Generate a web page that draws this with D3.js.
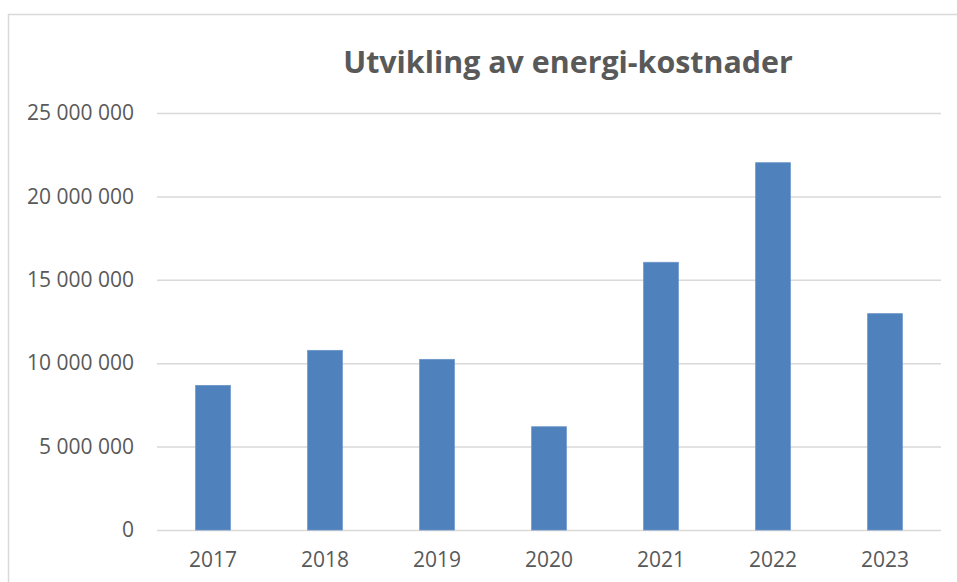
<!DOCTYPE html>
<html>
<head>
<meta charset="utf-8">
<script src="https://cdn.jsdelivr.net/npm/d3@7"></script>
<style>
  body { margin: 0; background: #fff; }
  svg { display: block; font-family: "Open Sans", sans-serif; }
</style>
</head>
<body>
<svg id="chart" width="957" height="582"></svg>
<script>
const TITLE = "Utvikling av energi-kostnader";
const years = ["2017", "2018", "2019", "2020", "2021", "2022", "2023"];
const costs = [8670000, 10770000, 10230000, 6190000, 16050000, 22020000, 12970000];
const yTicks = [0, 5000000, 10000000, 15000000, 20000000, 25000000];

const W = 957, H = 582;
const margin = { top: 113, right: 16, bottom: 52, left: 157 };

const svg = d3.select("#chart");

// chart area frame
svg.append("rect")
  .attr("x", 8.5).attr("y", 14.5)
  .attr("width", W + 10).attr("height", H + 10)
  .attr("fill", "none")
  .attr("stroke", "#d9d9d9")
  .attr("stroke-width", 1.5);

const x = d3.scaleBand()
  .domain(years)
  .range([margin.left, W - margin.right])
  .paddingInner(0.69)
  .paddingOuter(0.345);

const y = d3.scaleLinear()
  .domain([0, 25000000])
  .range([H - margin.bottom, margin.top]);

const fmt = v => d3.format(",")(v).replace(/,/g, " ");

// gridlines + y labels
const yAxis = svg.append("g")
  .attr("transform", `translate(${margin.left},0)`)
  .call(d3.axisLeft(y)
    .tickValues(yTicks)
    .tickSize(-(W - margin.right - margin.left))
    .tickPadding(23)
    .tickFormat(fmt));
yAxis.select(".domain").remove();
yAxis.selectAll(".tick line").attr("stroke", "#d9d9d9").attr("stroke-width", 1.5);
yAxis.selectAll(".tick text")
  .attr("fill", "#595959")
  .attr("font-size", 21)
  .attr("font-family", "Open Sans, sans-serif");

// bars
svg.append("g")
  .selectAll("rect")
  .data(costs)
  .enter()
  .append("rect")
  .attr("x", (d, i) => x(years[i]))
  .attr("y", d => y(d))
  .attr("width", x.bandwidth())
  .attr("height", d => y(0) - y(d))
  .attr("fill", "#4f81bd")
  .attr("stroke", "#6b95c9")
  .attr("stroke-width", 0.8);

// x labels
const xAxis = svg.append("g")
  .attr("transform", `translate(0,${y(0)})`)
  .call(d3.axisBottom(x).tickSize(0).tickPadding(22));
xAxis.select(".domain").remove();
xAxis.selectAll(".tick text")
  .attr("fill", "#595959")
  .attr("font-size", 21)
  .attr("font-family", "Open Sans, sans-serif");

// title
const title = svg.append("text")
  .attr("x", 568)
  .attr("y", 73)
  .attr("text-anchor", "middle")
  .attr("fill", "#595959")
  .attr("font-weight", "bold")
  .attr("font-size", 28)
  .text(TITLE);
// fit title width to the reference
const tw = title.node().getComputedTextLength();
title.attr("font-size", 28 * 450 / tw);
</script>
</body>
</html>
